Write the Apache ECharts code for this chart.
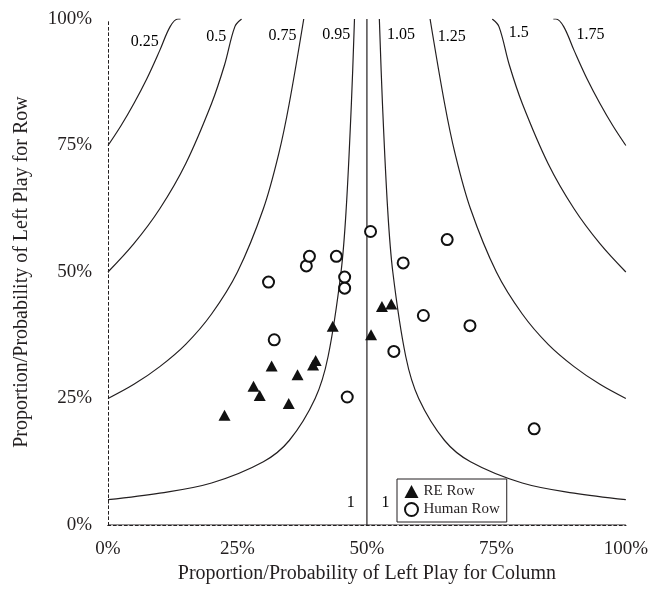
<!DOCTYPE html>
<html>
<head>
<meta charset="utf-8">
<script src="https://cdn.jsdelivr.net/npm/echarts@6/dist/echarts.min.js"></script>
<style>
  html, body { margin: 0; padding: 0; background: #fff; }
  #chart { width: 651px; height: 589px; }
</style>
</head>
<body>
<div id="chart"></div>
<script>
// iso-curves (x = column left %, y = row left %)
const curve025 = [[0, 75], [2.5, 78.9], [5, 83.3], [7.5, 88.2], [10, 93.8], [12, 98.5], [13.5, 100], [14, 100]]
const curve05 = [[0, 50], [5, 55.6], [10, 62.5], [15, 71.4], [20, 83.3], [22.5, 90.9], [24.5, 98.5], [25.8, 100]]
const curve075 = [[0, 25], [5, 27.8], [10, 31.3], [15, 35.7], [20, 41.7], [25, 50], [30, 62.5], [33, 73.5], [35, 83.3], [37.8, 100]]
const curve095 = [[0, 5], [10, 6.3], [20, 8.3], [30, 12.5], [35, 16.7], [40, 25], [42.5, 33.3], [45, 50], [46, 62.5], [47, 83.3], [47.6, 100]]
const curve1 = [[50, 0], [50, 100]]
const curveBase = [[0, 0], [100, 0]]
const curve105 = [[100, 5], [90, 6.3], [80, 8.3], [70, 12.5], [65, 16.7], [60, 25], [57.5, 33.3], [55, 50], [54, 62.5], [53, 83.3], [52.4, 100]]
const curve125 = [[100, 25], [95, 27.8], [90, 31.3], [85, 35.7], [80, 41.7], [75, 50], [70, 62.5], [67, 73.5], [65, 83.3], [62.2, 100]]
const curve15 = [[100, 50], [95, 55.6], [90, 62.5], [85, 71.4], [80, 83.3], [77.5, 90.9], [75.5, 98.5], [74.2, 100]]
const curve175 = [[100, 75], [97.5, 78.9], [95, 83.3], [92.5, 88.2], [90, 93.8], [88, 98.5], [86.5, 100], [86, 100]]

const curveNames = ['0.25', '0.5', '0.75', '0.95', '1.05', '1.25', '1.5', '1.75', '1', '1']

// observed points
const reRow = [
  [22.5, 21.7], [28.1, 27.4], [29.3, 25.6], [31.6, 31.4], [34.9, 24.0], [36.6, 29.7],
  [39.6, 31.6], [40.1, 32.5], [43.4, 39.3], [50.8, 37.6], [52.9, 43.2], [54.7, 43.7]
]
const humanRow = [
  [31.0, 48.0], [32.1, 36.6], [38.3, 51.2], [38.9, 53.1], [44.1, 53.1], [45.7, 49.0],
  [45.7, 46.8], [46.2, 25.3], [50.7, 58.0], [55.2, 34.3], [57.0, 51.8], [60.9, 41.4],
  [65.5, 56.4], [69.9, 39.4], [82.3, 19.0]
]

// where the curve names sit (data coords)
const labelAt = [[7.1, 95.5], [20.9, 96.5], [33.7, 96.7], [44.1, 96.9], [56.6, 96.9], [66.4, 96.5], [79.3, 97.2], [93.2, 96.9], [46.9, 4.3], [53.6, 4.3]]

const font = "'Liberation Serif', 'DejaVu Serif', serif"
const ink = '#231f20'

const chart = echarts.init(document.getElementById('chart'))

const lineSeries = [curve025, curve05, curve075, curve095, curve1, curveBase, curve105, curve125, curve15, curve175].map(d => ({
  type: 'line',
  data: d,
  showSymbol: false,
  smooth: 0.35,
  silent: true,
  lineStyle: { color: ink, width: 1.2 },
  z: 2
}))

const dotted = { show: true, lineStyle: { color: ink, width: 1, type: [2.5, 3] } }

chart.setOption({
  animation: false,
  backgroundColor: '#fff',
  grid: { left: 108, right: 24, top: 19, bottom: 62 },
  legend: {
    data: ['RE Row', 'Human Row'],
    orient: 'vertical',
    left: 397,
    top: 479,
    padding: [5, 7, 5, 7],
    itemGap: 3,
    itemWidth: 14,
    itemHeight: 13,
    backgroundColor: '#fff',
    borderColor: ink,
    borderWidth: 1,
    textStyle: { fontFamily: font, fontSize: 15, color: ink }
  },
  xAxis: [{
    type: 'value', min: 0, max: 100, interval: 25,
    name: 'Proportion/Probability of Left Play for Column',
    nameLocation: 'middle', nameGap: 39,
    nameTextStyle: { fontFamily: font, fontSize: 20, color: ink },
    axisLine: dotted,
    axisTick: { show: false },
    splitLine: { show: false },
    axisLabel: { formatter: '{value}%', fontFamily: font, fontSize: 19, color: ink, margin: 15 }
  }, {
    type: 'value', min: 0, max: 100, position: 'top',
    axisLine: dotted, axisTick: { show: false }, axisLabel: { show: false }, splitLine: { show: false }
  }],
  yAxis: [{
    type: 'value', min: 0, max: 100, interval: 25,
    name: 'Proportion/Probability of Left Play for Row',
    nameLocation: 'middle', nameGap: 76,
    nameTextStyle: { fontFamily: font, fontSize: 20, color: ink },
    axisLine: dotted,
    axisTick: { show: false },
    splitLine: { show: false },
    axisLabel: { formatter: '{value}%', fontFamily: font, fontSize: 19, color: ink, margin: 16 }
  }, {
    type: 'value', min: 0, max: 100, position: 'right',
    axisLine: dotted, axisTick: { show: false }, axisLabel: { show: false }, splitLine: { show: false }
  }],
  series: [
    ...lineSeries,
    {
      type: 'scatter',
      silent: true,
      symbolSize: 0,
      data: labelAt.map((p, i) => ({ value: p, name: curveNames[i] })),
      itemStyle: { opacity: 1 },
      label: {
        show: true, position: 'inside', formatter: '{b}',
        fontFamily: font, fontSize: 16, color: '#000', opacity: 1
      },
      z: 3
    },
    {
      name: 'RE Row',
      type: 'scatter',
      symbol: 'triangle',
      symbolSize: [12, 11],
      data: reRow,
      itemStyle: { color: '#111', opacity: 1 },
      z: 5
    },
    {
      name: 'Human Row',
      type: 'scatter',
      symbol: 'emptyCircle',
      symbolSize: 11,
      data: humanRow,
      itemStyle: { color: '#111', borderWidth: 1.2, opacity: 1 },
      z: 5
    }
  ]
})
</script>
</body>
</html>
